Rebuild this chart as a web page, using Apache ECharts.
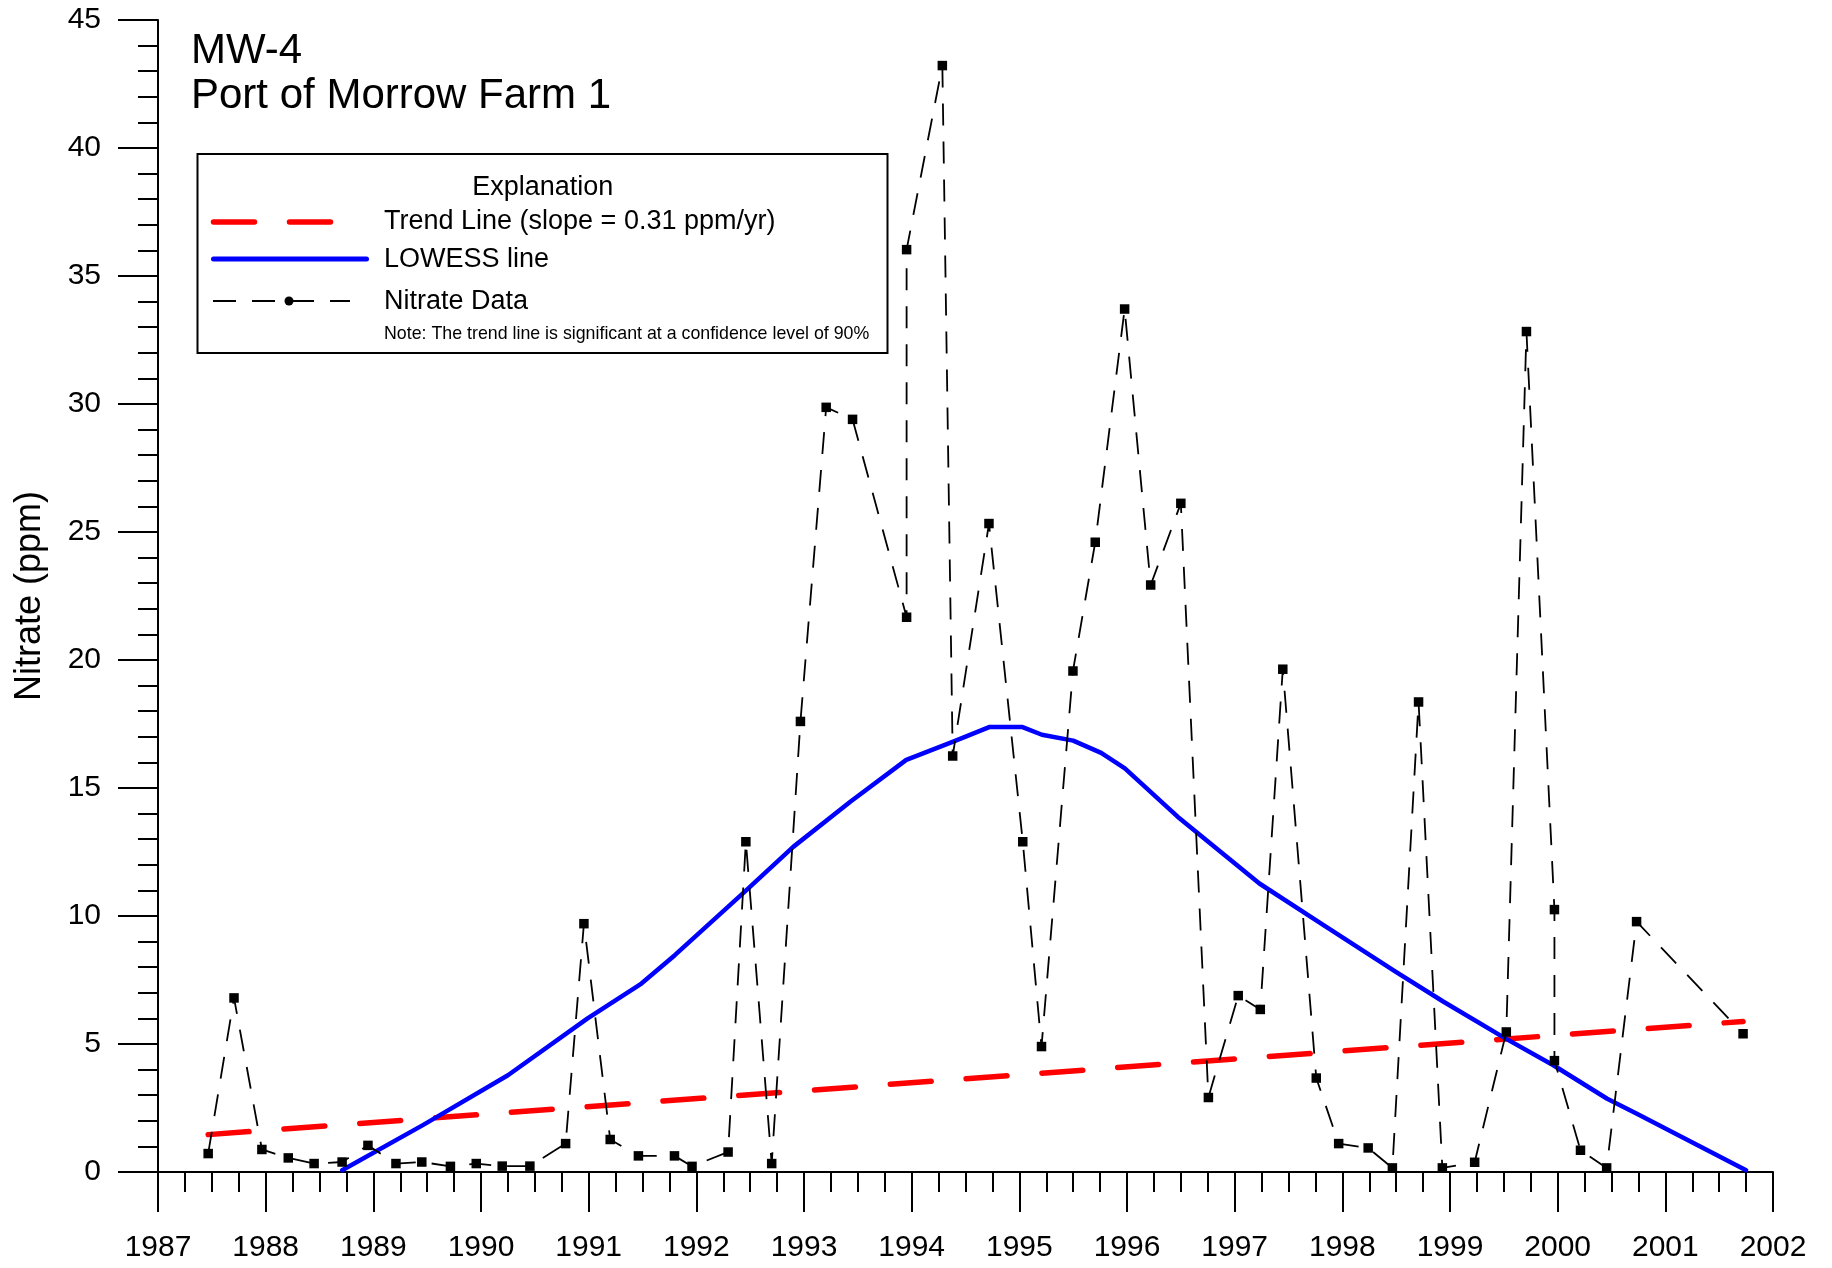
<!DOCTYPE html>
<html>
<head>
<meta charset="utf-8">
<script src="https://cdn.jsdelivr.net/npm/echarts@6/dist/echarts.min.js"></script>
<style>
html,body{margin:0;padding:0;background:#fff;}
#chart{width:1832px;height:1268px;}
</style>
</head>
<body>
<div id="chart"></div>
<script>
// ---- data (decimal years, ppm) ----
var sampleDates = [1987.466, 1987.706, 1987.965, 1988.21, 1988.45, 1988.71, 1988.95, 1989.21, 1989.45, 1989.716,
  1989.956, 1990.197, 1990.454, 1990.786, 1990.956, 1991.2, 1991.462, 1991.797, 1991.96, 1992.295,
  1992.46, 1992.70, 1992.967, 1993.206, 1993.451, 1993.953, 1993.953, 1994.285, 1994.381, 1994.718,
  1995.032, 1995.206, 1995.498, 1995.705, 1995.978, 1996.22, 1996.5, 1996.756, 1997.033, 1997.238,
  1997.447, 1997.758, 1997.966, 1998.24, 1998.465, 1998.708, 1998.929, 1999.229, 1999.523, 1999.71,
  1999.97, 1999.97, 2000.212, 2000.455, 2000.733, 2001.722];
var nitrateValues = [0.72, 6.8, 0.88, 0.55, 0.33, 0.39, 1.04, 0.33, 0.39, 0.22,
  0.33, 0.23, 0.23, 1.11, 9.7, 1.27, 0.63, 0.63, 0.22, 0.78,
  12.9, 0.33, 17.6, 29.87, 29.4, 21.67, 36.03, 43.22, 16.25, 25.33,
  12.9, 4.9, 19.57, 24.6, 33.71, 22.93, 26.12, 2.91, 6.89, 6.35,
  19.64, 3.67, 1.11, 0.94, 0.16, 18.36, 0.16, 0.38, 5.47, 32.83,
  10.25, 4.35, 0.85, 0.16, 9.78, 5.4];

var lowessDates = [1988.71, 1989.46, 1990.25, 1990.99, 1991.49, 1991.80, 1992.45, 1992.90, 1993.43, 1993.95,
  1994.38, 1994.72, 1995.03, 1995.21, 1995.50, 1995.76, 1995.98, 1996.47, 1997.23, 1997.75,
  1998.49, 1998.94, 1999.51, 1999.96, 2000.46, 2000.74, 2001.75];
var lowessValues = [0.07, 1.83, 3.78, 6.0, 7.36, 8.47, 10.95, 12.7, 14.46, 16.1,
  16.8, 17.38, 17.38, 17.08, 16.85, 16.37, 15.77, 13.88, 11.27, 9.85,
  7.84, 6.65, 5.23, 4.17, 2.86, 2.27, 0.07];

var trendDates = [1987.466, 2001.722];
var trendValues = [1.46, 5.88];

var titleLines = ['MW-4', 'Port of Morrow Farm 1'];
var legendTitle = 'Explanation';
var legendLabels = ['Trend Line (slope = 0.31 ppm/yr)', 'LOWESS line', 'Nitrate Data'];
var legendNote = 'Note: The trend line is significant at a confidence level of 90%';
var yAxisTitle = 'Nitrate (ppm)';

function zip(a, b) { return a.map(function (v, i) { return [v, b[i]]; }); }

var FONT = '"Liberation Sans", Arial, Helvetica, sans-serif';
var chart = echarts.init(document.getElementById('chart'), null, {renderer: 'canvas'});

var option = {
  animation: false,
  backgroundColor: '#ffffff',
  grid: {left: 158, right: 59, top: 20, bottom: 96, containLabel: false},
  xAxis: {
    type: 'value', min: 1987, max: 2002, interval: 1,
    axisLine: {show: true, onZero: false, lineStyle: {color: '#000', width: 2}},
    axisTick: {show: true, inside: false, length: 40, lineStyle: {color: '#000', width: 2}},
    minorTick: {show: true, splitNumber: 4, length: 20, lineStyle: {color: '#000', width: 2}},
    splitLine: {show: false}, minorSplitLine: {show: false},
    axisLabel: {color: '#000', fontSize: 30, fontFamily: FONT, margin: 61,
      formatter: function (v) { return String(v); }}
  },
  yAxis: {
    type: 'value', min: 0, max: 45, interval: 5,
    name: yAxisTitle, nameLocation: 'middle', nameRotate: 90, nameGap: 110,
    nameTextStyle: {color: '#000', fontSize: 36, fontFamily: FONT},
    axisLine: {show: true, onZero: false, lineStyle: {color: '#000', width: 2}},
    axisTick: {show: true, inside: false, length: 40, lineStyle: {color: '#000', width: 2}},
    minorTick: {show: true, splitNumber: 5, length: 20, lineStyle: {color: '#000', width: 2}},
    splitLine: {show: false}, minorSplitLine: {show: false},
    axisLabel: {color: '#000', fontSize: 30, fontFamily: FONT, margin: 57,
      formatter: function (v) { return String(v); }}
  },
  series: [
    {
      name: legendLabels[0], type: 'line', data: zip(trendDates, trendValues),
      showSymbol: false, symbol: 'none', z: 3,
      lineStyle: {color: '#ff0000', width: 5.5, type: [41, 35], cap: 'round'}
    },
    {
      name: legendLabels[1], type: 'line', data: zip(lowessDates, lowessValues),
      showSymbol: false, symbol: 'none', z: 4,
      lineStyle: {color: '#0000ff', width: 4.5, cap: 'round', join: 'round'}
    },
    {
      name: legendLabels[2], type: 'line', data: zip(sampleDates, nitrateValues),
      symbol: 'rect', symbolSize: 9.5, showSymbol: true, z: 5,
      itemStyle: {color: '#000'},
      lineStyle: {color: '#000', width: 1.8, type: [22, 16]}
    }
  ],
  graphic: [
    {type: 'text', left: 191, top: 30, z: 10,
      style: {text: titleLines[0], font: '42px ' + FONT, fill: '#000'}},
    {type: 'text', left: 191, top: 75, z: 10,
      style: {text: titleLines[1], font: '42px ' + FONT, fill: '#000'}},
    {type: 'rect', z: 10, shape: {x: 197.5, y: 154, width: 690, height: 199},
      style: {fill: '#fff', stroke: '#000', lineWidth: 2}},
    {type: 'text', z: 11, x: 542.7, y: 188,
      style: {text: legendTitle, font: '27px ' + FONT, fill: '#000', align: 'center', verticalAlign: 'middle'}},
    {type: 'line', z: 11, shape: {x1: 213.5, y1: 222, x2: 331.5, y2: 222},
      style: {stroke: '#ff0000', lineWidth: 5.5, lineDash: [41, 35], lineCap: 'round'}},
    {type: 'text', z: 11, x: 384, y: 222,
      style: {text: legendLabels[0], font: '27px ' + FONT, fill: '#000', align: 'left', verticalAlign: 'middle'}},
    {type: 'line', z: 11, shape: {x1: 213.5, y1: 259, x2: 366.5, y2: 259},
      style: {stroke: '#0000ff', lineWidth: 5, lineCap: 'round'}},
    {type: 'text', z: 11, x: 384, y: 260,
      style: {text: legendLabels[1], font: '27px ' + FONT, fill: '#000', align: 'left', verticalAlign: 'middle'}},
    {type: 'line', z: 11, shape: {x1: 213, y1: 301, x2: 350, y2: 301},
      style: {stroke: '#000', lineWidth: 1.8, lineDash: [23, 16]}},
    {type: 'circle', z: 11, shape: {cx: 289, cy: 301, r: 4.5}, style: {fill: '#000'}},
    {type: 'text', z: 11, x: 384, y: 302,
      style: {text: legendLabels[2], font: '27px ' + FONT, fill: '#000', align: 'left', verticalAlign: 'middle'}},
    {type: 'text', z: 11, x: 384, y: 334,
      style: {text: legendNote, font: '17.8px ' + FONT, fill: '#000', align: 'left', verticalAlign: 'middle'}}
  ]
};
chart.setOption(option);
</script>
</body>
</html>
